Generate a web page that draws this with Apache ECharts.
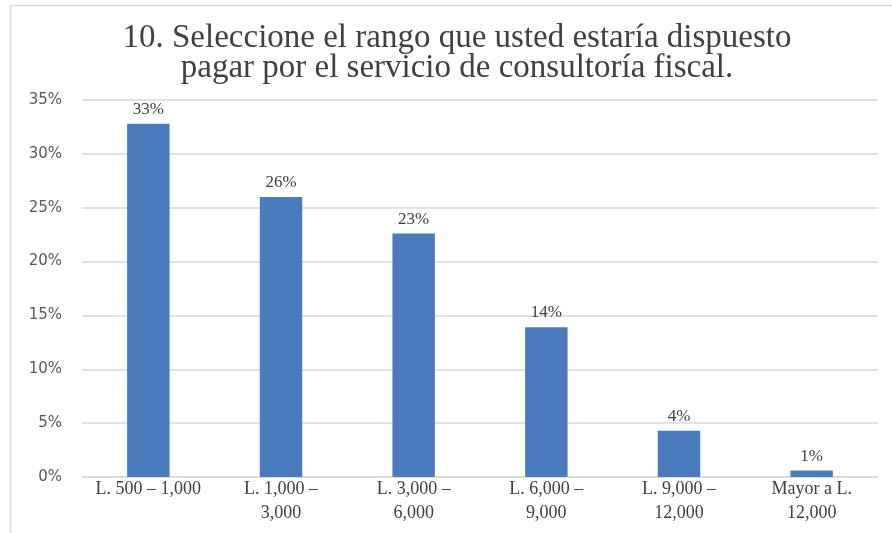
<!DOCTYPE html>
<html>
<head>
<meta charset="utf-8">
<script src="https://cdn.jsdelivr.net/npm/echarts@6/dist/echarts.min.js"></script>
<style>
  html, body { margin: 0; padding: 0; background: #ffffff; }
  #chart { width: 892px; height: 533px; }
</style>
</head>
<body>
<div id="chart"></div>
<script>
// Price ranges (Lempiras) and share of respondents, in percent
const categories = [
  'L. 500 – 1,000',
  'L. 1,000 –\n3,000',
  'L. 3,000 –\n6,000',
  'L. 6,000 –\n9,000',
  'L. 9,000 –\n12,000',
  'Mayor a L.\n12,000'
];
const shares = [32.8, 26.0, 22.6, 13.9, 4.3, 0.6];
const yTicks = [0, 5, 10, 15, 20, 25, 30, 35];
const titleLines = [
  '10. Seleccione el rango que usted estaría dispuesto',
  'pagar por el servicio de consultoría fiscal.'
];

const serif = '"Liberation Serif", "DejaVu Serif", serif';
const chart = echarts.init(document.getElementById('chart'), null, { renderer: 'canvas' });

chart.setOption({
  animation: false,
  backgroundColor: '#ffffff',
  graphic: [
    {
      type: 'rect',
      shape: { x: 10.5, y: 5.5, width: 900, height: 600 },
      style: { fill: 'none', stroke: '#d9d9d9', lineWidth: 1.5 },
      silent: true
    },
    {
      type: 'text',
      x: 457, y: 38,
      style: {
        text: titleLines[0],
        textAlign: 'center', textVerticalAlign: 'middle',
        font: '33px ' + serif, fill: '#404040'
      }
    },
    {
      type: 'text',
      x: 457, y: 68,
      style: {
        text: titleLines[1],
        textAlign: 'center', textVerticalAlign: 'middle',
        font: '33px ' + serif, fill: '#404040'
      }
    }
  ],
  grid: { left: 82, right: 14, top: 100, bottom: 56, containLabel: false },
  xAxis: {
    type: 'category',
    data: categories,
    axisLine: { show: true, lineStyle: { color: '#d9d9d9', width: 1.5 } },
    axisTick: { show: false },
    axisLabel: {
      interval: 0,
      margin: 0,
      fontFamily: serif,
      fontSize: 18,
      lineHeight: 24,
      color: '#404040',
      align: 'center'
    }
  },
  yAxis: {
    type: 'value',
    min: yTicks[0],
    max: yTicks[yTicks.length - 1],
    interval: 5,
    axisLine: { show: false },
    axisTick: { show: false },
    splitLine: { lineStyle: { color: '#d9d9d9', width: 1.5 } },
    axisLabel: {
      margin: 20,
      fontFamily: '"DejaVu Sans", sans-serif',
      fontSize: 15,
      color: '#595959',
      formatter: v => v + '%'
    }
  },
  series: [{
    type: 'bar',
    data: shares,
    barWidth: '32%',
    itemStyle: { color: '#4a7cbd' },
    label: {
      show: true,
      position: 'top',
      distance: 6,
      fontFamily: serif,
      fontSize: 17,
      color: '#404040',
      formatter: p => Math.round(p.value) + '%'
    }
  }]
});
</script>
</body>
</html>
